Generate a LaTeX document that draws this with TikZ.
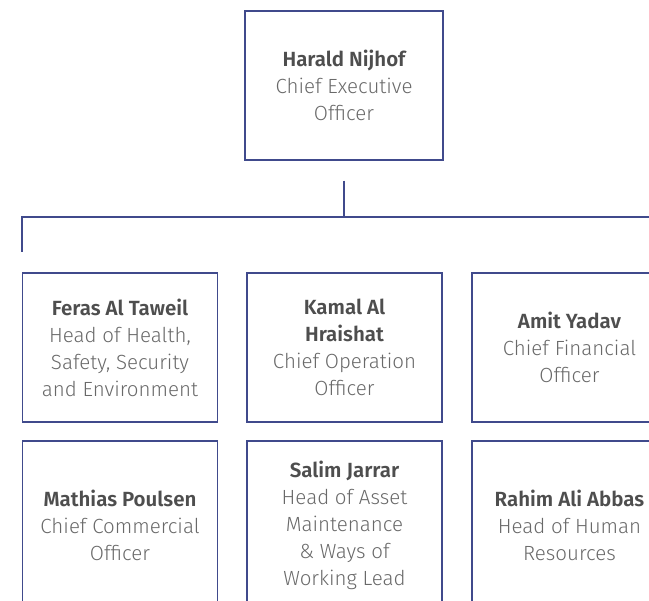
\documentclass[tikz,border=0pt]{standalone}
\usepackage{fontspec}
\setmainfont{Fira Sans}[UprightFont=* Light, BoldFont=* SemiBold]
\usetikzlibrary{positioning}

\definecolor{boxblue}{RGB}{64,74,140}
\definecolor{namegray}{RGB}{78,78,78}
\definecolor{rolegray}{RGB}{105,105,105}

\tikzset{
  person/.style={draw=boxblue, line width=1.3pt, minimum width=195pt,
    minimum height=149pt, inner sep=0pt, align=center, text=rolegray,
    font=\fontsize{20.5}{27}\selectfont},
  tall/.style={minimum height=168pt},
  link/.style={draw=boxblue, line width=1.3pt}
}
\newcommand{\who}[1]{{\bfseries\color{namegray}#1}}

\begin{document}
\begin{tikzpicture}[x=1pt,y=-1pt]
       \useasboundingbox (0,0) rectangle (649,601);
       \clip (0,0) rectangle (649,601);

       \coordinate (T)  at (344,85.5);

       \coordinate (A1) at (120,347.5);
       \coordinate (A2) at (344.5,347.5);
       \coordinate (A3) at (569.5,347.5);

       \coordinate (B1) at (120,525);
       \coordinate (B2) at (344.5,525);
       \coordinate (B3) at (569.5,525);

       \coordinate (busR) at (649,217);

       % top
       \node[person, minimum width=198pt] (ceo) at (T) {\who{Harald Nijhof}\\Chief Executive\\Officer};

       % first row
       \node[person] (hsse) at (A1) {\who{Feras Al Taweil}\\Head of Health,\\Safety, Security\\and Environment};
       \node[person] (coo) at (A2) {\who{Kamal Al}\\\who{Hraishat}\\Chief Operation\\Officer};
       \node[person] (cfo) at (A3) {\who{Amit Yadav}\\Chief Financial\\Officer};

       % second row
       \node[person,tall] (cco) at (B1) {\who{Mathias Poulsen}\\Chief Commercial\\Officer};
       \node[person,tall] (asset) at (B2) {\who{Salim Jarrar}\\Head of Asset\\Maintenance\\\& Ways of\\Working Lead};
       \node[person,tall] (hr) at (B3) {\who{Rahim Ali Abbas}\\Head of Human\\Resources};

       \draw[link, shorten <=20pt] (ceo.south) -- (ceo.south |- busR);
       \draw[link, shorten >=20pt] (busR) -| (hsse.north west);
\end{tikzpicture}
\end{document}
